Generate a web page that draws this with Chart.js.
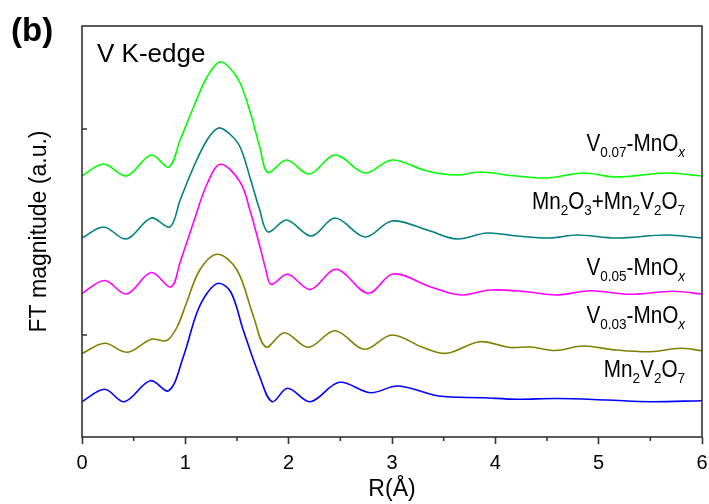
<!DOCTYPE html>
<html>
<head>
<meta charset="utf-8">
<script src="https://cdn.jsdelivr.net/npm/chart.js@4/dist/chart.umd.min.js"></script>
<style>
  html, body { margin: 0; padding: 0; background: #fff; }
  #wrap { width: 709px; height: 504px; }
</style>
</head>
<body>
<div id="wrap"><canvas id="ft-chart" width="709" height="504"></canvas></div>
<script>
const FONT = '"Liberation Sans", Arial, sans-serif';

// x ticks (R, Angstrom) and the two unlabeled marks on the y axis
const xTicks = [0, 1, 2, 3, 4, 5, 6];
const yTickMarks = [1.02, 3.08];

// V0.07-MnOx
const rV007 = [0, 0.21, 0.43, 0.67, 0.84, 0.95, 1.08, 1.21, 1.33, 1.43, 1.53, 1.63, 1.72, 1.80, 1.98, 2.20, 2.45, 2.74, 3.00, 3.34, 3.63, 3.85, 4.20, 4.50, 4.85, 5.17, 5.66, 6.00];
const ftV007 = [2.61, 2.73, 2.61, 2.82, 2.70, 2.97, 3.30, 3.60, 3.75, 3.69, 3.54, 3.24, 2.90, 2.645, 2.77, 2.63, 2.82, 2.64, 2.77, 2.66, 2.62, 2.65, 2.61, 2.59, 2.64, 2.60, 2.64, 2.61];

// Mn2O3+Mn2V2O7
const rMix = [0, 0.21, 0.43, 0.67, 0.85, 0.95, 1.08, 1.21, 1.32, 1.43, 1.53, 1.63, 1.72, 1.80, 1.98, 2.22, 2.45, 2.74, 3.00, 3.34, 3.63, 3.92, 4.21, 4.53, 4.79, 5.17, 5.66, 6.00];
const ftMix = [1.99, 2.10, 1.98, 2.19, 2.10, 2.37, 2.70, 2.97, 3.09, 3.03, 2.90, 2.58, 2.27, 2.05, 2.17, 2.01, 2.19, 2.00, 2.16, 2.07, 1.98, 2.04, 2.01, 1.99, 2.02, 1.99, 2.02, 1.99];

// V0.05-MnOx
const rV005 = [0, 0.22, 0.43, 0.67, 0.86, 0.95, 1.08, 1.21, 1.34, 1.53, 1.63, 1.72, 1.78, 1.83, 1.99, 2.21, 2.46, 2.77, 3.01, 3.37, 3.67, 3.95, 4.30, 4.59, 4.92, 5.30, 5.72, 6.00];
const ftV005 = [1.435, 1.565, 1.43, 1.645, 1.50, 1.75, 2.15, 2.53, 2.727, 2.55, 2.25, 1.91, 1.67, 1.527, 1.627, 1.475, 1.677, 1.437, 1.63, 1.503, 1.42, 1.47, 1.453, 1.42, 1.463, 1.427, 1.457, 1.43];

// V0.03-MnOx
const rV003 = [0, 0.22, 0.44, 0.67, 0.82, 0.92, 1.01, 1.14, 1.31, 1.50, 1.66, 1.78, 1.96, 2.19, 2.45, 2.73, 3.00, 3.30, 3.53, 3.85, 4.14, 4.34, 4.58, 4.85, 5.17, 5.50, 5.79, 6.00];
const ftV003 = [0.835, 0.937, 0.847, 0.978, 0.965, 1.10, 1.337, 1.67, 1.827, 1.67, 1.203, 0.90, 1.043, 0.897, 1.063, 0.877, 1.02, 0.895, 0.837, 0.953, 0.895, 0.90, 0.865, 0.91, 0.87, 0.853, 0.887, 0.863];

// Mn2V2O7
const rMVO = [0, 0.22, 0.41, 0.66, 0.84, 0.98, 1.11, 1.21, 1.32, 1.44, 1.56, 1.72, 1.84, 1.99, 2.21, 2.49, 2.79, 3.06, 3.45, 3.88, 4.21, 4.59, 5.08, 5.50, 6.00];
const ftMVO = [0.353, 0.477, 0.353, 0.563, 0.463, 0.80, 1.237, 1.437, 1.537, 1.45, 1.07, 0.603, 0.353, 0.487, 0.353, 0.547, 0.443, 0.51, 0.41, 0.393, 0.377, 0.385, 0.37, 0.353, 0.363];

// curve labels, as [text, style] runs
const seriesLabels = [
  [["V", ""], ["0.07", "sub"], ["-MnO", ""], ["x", "subi"]],
  [["Mn", ""], ["2", "sub"], ["O", ""], ["3", "sub"], ["+Mn", ""], ["2", "sub"], ["V", ""], ["2", "sub"], ["O", ""], ["7", "sub"]],
  [["V", ""], ["0.05", "sub"], ["-MnO", ""], ["x", "subi"]],
  [["V", ""], ["0.03", "sub"], ["-MnO", ""], ["x", "subi"]],
  [["Mn", ""], ["2", "sub"], ["V", ""], ["2", "sub"], ["O", ""], ["7", "sub"]],
];
const labelBaseY = [2.86, 2.28, 1.62, 1.14, 0.60];

const pts = (xs, ys) => xs.map((x, i) => ({ x: x, y: ys[i] }));

function drawRich(ctx, parts, right, baseline, size) {
  const subSize = 15;
  let w = 0;
  const runs = parts.map(([t, s]) => {
    let font = `${size}px ${FONT}`;
    if (s === "sub") font = `${subSize}px ${FONT}`;
    if (s === "subi") font = `italic ${subSize}px ${FONT}`;
    ctx.font = font;
    const tw = ctx.measureText(t).width;
    w += tw;
    return { t, font, tw, dy: s ? 6 : 0 };
  });
  ctx.save();
  ctx.translate(right, baseline);
  ctx.scale(0.9, 1);
  ctx.textAlign = "left";
  ctx.textBaseline = "alphabetic";
  ctx.fillStyle = "#000";
  let x = -w;
  runs.forEach((r) => {
    ctx.font = r.font;
    ctx.fillText(r.t, x, r.dy);
    x += r.tw;
  });
  ctx.restore();
}

const decor = {
  id: "decor",
  afterDraw(chart) {
    const { ctx, chartArea: a } = chart;
    const xs = chart.scales.x;
    const ys = chart.scales.y;
    ctx.save();
    ctx.strokeStyle = "#333";
    ctx.lineWidth = 1.6;
    ctx.strokeRect(a.left, a.top, a.right - a.left, a.bottom - a.top);

    // minor ticks on x, inward ticks on y
    ctx.beginPath();
    xTicks.slice(0, -1).forEach((v) => {
      const px = xs.getPixelForValue(v + 0.5);
      ctx.moveTo(px, a.bottom);
      ctx.lineTo(px, a.bottom + 4);
    });
    yTickMarks.forEach((v) => {
      const py = ys.getPixelForValue(v);
      ctx.moveTo(a.left, py);
      ctx.lineTo(a.left + 5, py);
    });
    ctx.stroke();

    ctx.fillStyle = "#000";
    ctx.textAlign = "left";
    ctx.textBaseline = "alphabetic";
    ctx.font = `bold 33px ${FONT}`;
    ctx.fillText("(b)", 11, 41);
    ctx.font = `26px ${FONT}`;
    ctx.fillText("V K-edge", 97, 62);

    const right = xs.getPixelForValue(5.836);
    seriesLabels.forEach((parts, i) => {
      drawRich(ctx, parts, right, ys.getPixelForValue(labelBaseY[i]), 23);
    });
    ctx.restore();
  },
};

const line = (data, color) => ({
  data: data,
  borderColor: color,
  borderWidth: 1.6,
  pointRadius: 0,
  fill: false,
  tension: 0.35,
});

new Chart(document.getElementById("ft-chart"), {
  type: "line",
  data: {
    datasets: [
      line(pts(rV007, ftV007), "#00FF00"),
      line(pts(rMix, ftMix), "#008080"),
      line(pts(rV005, ftV005), "#FF00FF"),
      line(pts(rV003, ftV003), "#808000"),
      line(pts(rMVO, ftMVO), "#0000FF"),
    ],
  },
  options: {
    responsive: false,
    animation: false,
    devicePixelRatio: 1,
    layout: { padding: { top: 26, right: 7, left: 0, bottom: 0 } },
    plugins: { legend: { display: false }, tooltip: { enabled: false } },
    scales: {
      x: {
        type: "linear",
        min: 0,
        max: 6,
        afterFit: (scale) => {
          scale.height = 67;
          scale.paddingLeft = 0;
          scale.paddingRight = 0;
        },
        afterBuildTicks: (scale) => { scale.ticks = xTicks.map((v) => ({ value: v })); },
        ticks: { color: "#000", padding: 7, maxRotation: 0, font: { family: FONT, size: 20 } },
        grid: { display: true, drawOnChartArea: false, drawTicks: true, tickLength: 7, tickWidth: 1.6, tickColor: "#333" },
        border: { display: false },
        title: { display: true, text: "R(Å)", color: "#000", padding: { top: 0, bottom: 1 }, font: { family: FONT, size: 23 } },
      },
      y: {
        min: 0,
        max: 4.11,
        afterFit: (scale) => { scale.width = 82; },
        ticks: { display: false },
        grid: { display: false },
        border: { display: false },
        title: { display: true, text: "FT magnitude (a.u.)", color: "#000", padding: { top: 26, bottom: 0 }, font: { family: FONT, size: 23 } },
      },
    },
  },
  plugins: [decor],
});
</script>
</body>
</html>
